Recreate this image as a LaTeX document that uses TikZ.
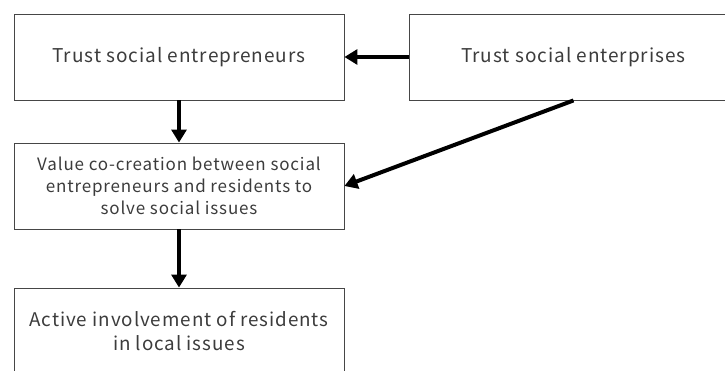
\documentclass[tikz,border=0pt]{standalone}
\usepackage{fontspec}
\setmainfont{Noto Sans CJK JP}[LetterSpace=5]
\usepackage{tikz}
\usetikzlibrary{arrows.meta,positioning}
\definecolor{boxline}{RGB}{70,70,70}
\definecolor{boxtext}{RGB}{60,60,60}
\tikzset{
  % concept box
  cbox/.style={rectangle, draw=boxline, line width=0.9pt, fill=white,
               minimum width=330pt, minimum height=86pt, inner sep=0pt,
               align=center, text=boxtext, font=\fontsize{#1}{1.3\dimexpr#1pt\relax}\selectfont},
  cbox/.default={19},
  % influence arrow
  flow/.style={-{Triangle[length=13pt,width=15pt]}, line width=4pt, black},
}

\begin{document}
\begin{tikzpicture}[x=1pt, y=-1pt]
  \useasboundingbox (0,0) rectangle (725,371);
  \clip (0,0) rectangle (725,371);

  % boxes
  \node[cbox] (tent) at (179,57) {Trust social entrepreneurs};
  \node[cbox, minimum width=329pt] (tsoc) at (573.5,57) {Trust social enterprises};
  \node[cbox=17] (vcc) at (179,186)
    {Value co-creation between social\\entrepreneurs and residents to\\solve social issues};
  \node[cbox=18.8] (act) at (179,331)
    {Active involvement of residents\\in local issues};

  % arrows
  \draw[flow] (tsoc.west) -- (tent.east);
  \draw[flow] (tent.south) -- (vcc.north);
  \draw[flow] (tsoc.south) -- (vcc.east);
  \draw[flow] (vcc.south) -- (act.north);

\end{tikzpicture}
\end{document}
